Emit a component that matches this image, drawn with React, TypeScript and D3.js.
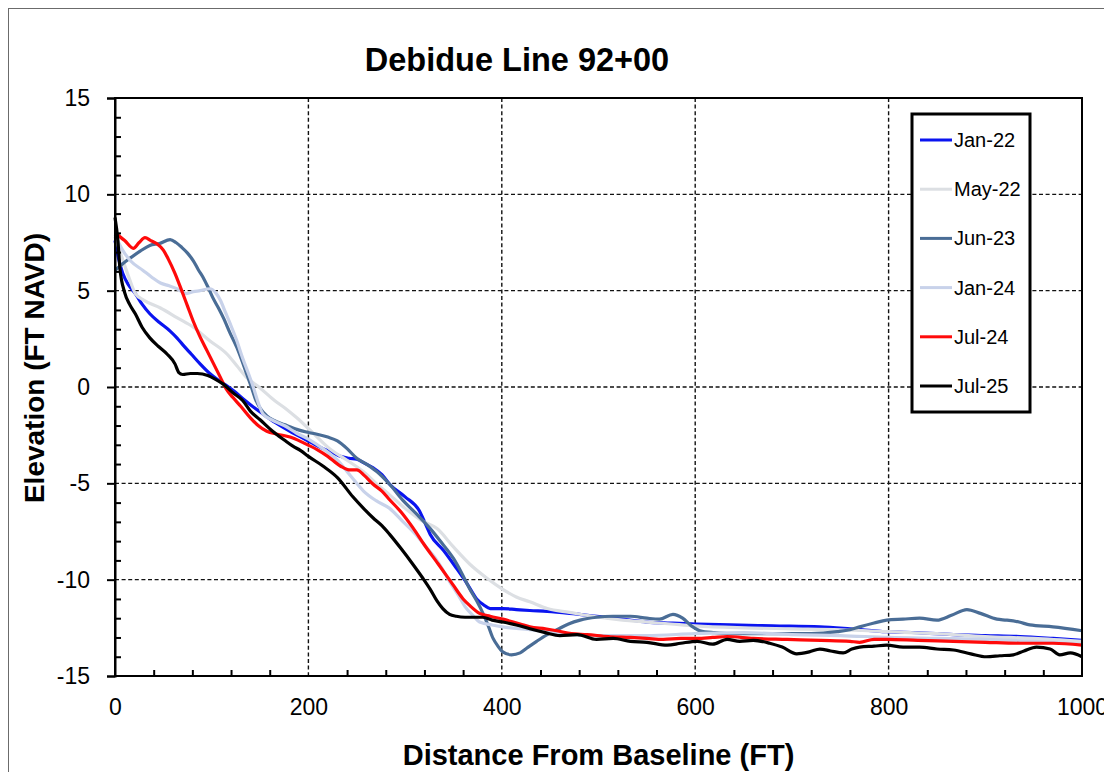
import * as d3 from "d3";
import { useEffect, useRef } from "react";

type Pt = [number, number];

// survey profiles: [distance from baseline (ft), elevation (ft NAVD)]
const jan22: Pt[] = [
  [0, 7.6], [4, 6.6], [8, 5.9], [14, 5.3], [21, 4.85], [28, 4.3], [36, 3.8], [46, 3.35], [57, 2.9],
  [64, 2.55], [70, 2.2], [79, 1.7], [88, 1.2], [98, 0.7], [107, 0.35], [116, 0.05], [124, -0.25],
  [132, -0.6], [142, -1.0], [153, -1.4], [166, -1.85], [181, -2.3], [198, -2.75], [215, -3.2],
  [225, -3.4], [233, -3.6], [242, -3.7], [250, -3.75], [258, -3.95], [267, -4.2], [276, -4.55],
  [284, -5.05], [300, -5.7], [315, -6.45], [321, -7.1], [326, -7.65], [340, -8.5], [353, -9.4],
  [364, -10.2], [374, -11.0], [381, -11.3], [388, -11.5], [401, -11.5], [415, -11.55], [429, -11.6],
  [447, -11.65], [470, -11.75], [498, -11.9], [525, -12.05], [550, -12.2], [575, -12.25], [602, -12.3],
  [636, -12.35], [680, -12.4], [729, -12.45], [760, -12.55], [798, -12.7], [830, -12.75], [867, -12.85],
  [900, -12.9], [936, -12.95], [970, -13.05], [1000, -13.15],
];

const may22: Pt[] = [
  [0, 7.8], [8, 6.6], [15, 5.6], [21, 4.85], [30, 4.5], [47, 4.1], [64, 3.6], [81, 3.1], [98, 2.4],
  [116, 1.7], [126, 1.1], [136, 0.5], [150, -0.05], [165, -0.7], [176, -1.1], [188, -1.6], [205, -2.4],
  [222, -3.2], [240, -3.8], [257, -4.4], [270, -5.0], [284, -5.6], [300, -6.3], [316, -6.9], [333, -7.35],
  [350, -8.3], [367, -9.2], [384, -9.9], [401, -10.5], [415, -10.9], [429, -11.15], [447, -11.5],
  [470, -11.7], [500, -11.95], [525, -12.1], [550, -12.2], [575, -12.3], [600, -12.4], [650, -12.5],
  [700, -12.55], [750, -12.6], [800, -12.7], [850, -12.8], [900, -12.95], [950, -13.05], [1000, -13.2],
];

const jun23: Pt[] = [
  [0, 6.05], [8, 6.4], [16, 6.7], [26, 7.05], [36, 7.35], [46, 7.45], [57, 7.65], [63, 7.5], [69, 7.25],
  [75, 6.95], [81, 6.55], [86, 6.1], [91, 5.7], [96, 5.2], [101, 4.65], [107, 4.1], [112, 3.6], [119, 2.8],
  [126, 2.05], [131, 1.4], [136, 0.7], [141, 0.0], [145, -0.6], [150, -1.1], [157, -1.5], [165, -1.75],
  [175, -1.95], [188, -2.2], [199, -2.35], [209, -2.45], [220, -2.6], [230, -2.8], [240, -3.2], [250, -3.7],
  [260, -4.0], [271, -4.4], [284, -5.05], [298, -5.9], [312, -6.6], [326, -7.35], [338, -8.1], [350, -8.9],
  [359, -9.7], [367, -10.5], [374, -11.1], [381, -11.8], [386, -12.4], [391, -13.05], [396, -13.45],
  [401, -13.75], [410, -13.9], [419, -13.8], [426, -13.55], [436, -13.2], [447, -12.85], [457, -12.6],
  [469, -12.3], [481, -12.1], [498, -11.95], [515, -11.9], [533, -11.9], [550, -12.0], [563, -12.05],
  [577, -11.8], [587, -12.0], [596, -12.4], [605, -12.65], [620, -12.75], [636, -12.8], [660, -12.8],
  [695, -12.8], [720, -12.8], [747, -12.7], [760, -12.6], [770, -12.45], [785, -12.25], [798, -12.1],
  [815, -12.05], [832, -12.0], [850, -12.1], [865, -11.85], [881, -11.55], [895, -11.75], [912, -12.05],
  [922, -12.1], [935, -12.2], [946, -12.35], [970, -12.45], [1000, -12.65],
];

const jan24: Pt[] = [
  [0, 7.9], [8, 7.1], [16, 6.55], [29, 6.05], [38, 5.7], [47, 5.4], [56, 5.25], [64, 5.1], [74, 4.85],
  [81, 4.95], [88, 5.0], [98, 5.1], [104, 4.9], [109, 4.5], [114, 3.9], [119, 3.3], [126, 2.4], [132, 1.5],
  [138, 0.7], [143, 0.0], [148, -0.8], [153, -1.4], [162, -1.7], [175, -2.0], [188, -2.4], [200, -2.7],
  [215, -3.2], [230, -3.8], [245, -4.7], [257, -5.4], [270, -5.9], [284, -6.3], [298, -7.0], [310, -7.6],
  [320, -8.2], [330, -8.8], [338, -9.4], [346, -10.1], [355, -10.8], [362, -11.4], [370, -11.85],
  [377, -12.2], [390, -12.35], [401, -12.45], [429, -12.6], [460, -12.8], [500, -12.9], [550, -12.9],
  [600, -12.8], [650, -12.75], [700, -12.85], [750, -12.9], [800, -13.0], [850, -13.05], [900, -13.1],
  [950, -13.2], [1000, -13.35],
];

const jul24: Pt[] = [
  [0, 8.0], [10, 7.6], [19, 7.2], [25, 7.5], [31, 7.75], [37, 7.6], [43, 7.45], [50, 7.1], [55, 6.65],
  [62, 5.9], [69, 5.0], [75, 4.2], [81, 3.4], [88, 2.6], [95, 1.9], [102, 1.2], [109, 0.5], [115, -0.1],
  [122, -0.55], [130, -1.0], [140, -1.6], [148, -2.0], [157, -2.3], [168, -2.45], [181, -2.6], [195, -2.9],
  [209, -3.25], [220, -3.6], [233, -4.1], [242, -4.3], [250, -4.3], [258, -4.6], [267, -5.05], [276, -5.4],
  [284, -5.85], [296, -6.5], [308, -7.3], [320, -8.2], [333, -9.1], [343, -9.8], [350, -10.3], [360, -11.0],
  [367, -11.35], [377, -11.75], [388, -11.9], [401, -12.05], [419, -12.3], [429, -12.45], [445, -12.55],
  [457, -12.65], [472, -12.8], [488, -12.85], [510, -12.95], [533, -13.0], [550, -13.05], [567, -13.1],
  [585, -13.05], [602, -13.05], [618, -13.0], [633, -12.95], [660, -13.05], [695, -13.1], [730, -13.15],
  [760, -13.2], [770, -13.25], [785, -13.1], [798, -13.1], [830, -13.15], [867, -13.2], [900, -13.25],
  [936, -13.3], [970, -13.3], [1000, -13.4],
];

const jul25: Pt[] = [
  [0, 8.8], [3, 7.6], [5, 6.2], [10, 4.9], [15, 4.3], [21, 3.8], [28, 3.1], [36, 2.55], [45, 2.1], [54, 1.7],
  [62, 1.2], [66, 0.75], [70, 0.65], [78, 0.7], [85, 0.7], [96, 0.6], [104, 0.4], [112, 0.15], [122, -0.3],
  [132, -0.7], [140, -1.25], [150, -1.7], [163, -2.3], [175, -2.75], [184, -3.07], [192, -3.3], [200, -3.6],
  [215, -4.1], [230, -4.7], [246, -5.7], [257, -6.3], [267, -6.8], [276, -7.2], [284, -7.65], [296, -8.4],
  [308, -9.2], [318, -9.9], [326, -10.5], [333, -11.1], [339, -11.5], [346, -11.8], [353, -11.9],
  [362, -11.95], [370, -11.95], [380, -11.95], [390, -12.1], [401, -12.2], [415, -12.35], [429, -12.55],
  [445, -12.75], [460, -12.9], [478, -12.85], [498, -13.1], [515, -13.05], [533, -13.2], [550, -13.25],
  [571, -13.4], [585, -13.3], [602, -13.2], [618, -13.35], [633, -13.1], [646, -13.2], [660, -13.15],
  [677, -13.3], [690, -13.5], [705, -13.85], [718, -13.75], [729, -13.6], [740, -13.7], [753, -13.8],
  [762, -13.6], [770, -13.5], [785, -13.45], [798, -13.4], [815, -13.5], [832, -13.5], [850, -13.6],
  [867, -13.65], [885, -13.85], [901, -14.0], [915, -13.95], [929, -13.9], [940, -13.7], [953, -13.5],
  [967, -13.6], [977, -13.9], [988, -13.8], [1000, -14.0],
];

const seriesNames = ["Jan-22", "May-22", "Jun-23", "Jan-24", "Jul-24", "Jul-25"];
const seriesData = [jan22, may22, jun23, jan24, jul24, jul25];
const seriesColors = ["#0a14f0", "#dcdfe3", "#4a6d96", "#c8d2ea", "#ff0a0a", "#000000"];

const xMajor = [0, 200, 400, 600, 800, 1000];
const yMajor = [-15, -10, -5, 0, 5, 10, 15];

const FONT = "'Liberation Sans', Arial, sans-serif";

const App = () => {
  const ref = useRef<SVGSVGElement | null>(null);
  const width = 1104;
  const height = 764;

  useEffect(() => {
    if (!ref.current) return;
    const root = d3.select(ref.current);
    root.selectAll("*").remove();

    const margin = { top: 90, left: 107 };
    const plotW = 967;
    const plotH = 578;

    // outer frame (runs past the picture on the right and bottom)
    root
      .append("rect")
      .attr("x", 0.5)
      .attr("y", 0.5)
      .attr("width", 1200)
      .attr("height", 1000)
      .attr("fill", "#fff")
      .attr("stroke", "#6b6b6b")
      .attr("stroke-width", 1);

    const x = d3.scaleLinear().domain([0, 1000]).range([0, plotW]);
    const y = d3.scaleLinear().domain([-15, 15]).range([plotH, 0]);

    const g = root.append("g").attr("transform", `translate(${margin.left},${margin.top})`);

    // dashed grid
    g.append("g")
      .selectAll("line")
      .data(yMajor.filter((v) => v > -15 && v < 15))
      .join("line")
      .attr("x1", 0)
      .attr("x2", plotW)
      .attr("y1", (d) => y(d))
      .attr("y2", (d) => y(d))
      .attr("stroke", "#111")
      .attr("stroke-width", 1.4)
      .attr("stroke-dasharray", "4,2.6");

    g.append("g")
      .selectAll("line")
      .data(xMajor.filter((v) => v > 0 && v < 1000))
      .join("line")
      .attr("x1", (d) => x(d))
      .attr("x2", (d) => x(d))
      .attr("y1", 0)
      .attr("y2", plotH)
      .attr("stroke", "#111")
      .attr("stroke-width", 1.4)
      .attr("stroke-dasharray", "4,2.6");

    // profiles
    const line = d3
      .line<Pt>()
      .x((d) => x(d[0]))
      .y((d) => y(d[1]))
      .curve(d3.curveMonotoneX);

    seriesData.forEach((data, i) => {
      g.append("path")
        .datum(data)
        .attr("fill", "none")
        .attr("stroke", seriesColors[i])
        .attr("stroke-width", 3.2)
        .attr("stroke-linejoin", "round")
        .attr("d", line);
    });

    // plot border
    g.append("rect")
      .attr("x", 0)
      .attr("y", 0)
      .attr("width", plotW)
      .attr("height", plotH)
      .attr("fill", "none")
      .attr("stroke", "#000")
      .attr("stroke-width", 2);

    const plain = (d: d3.NumberValue) => String(d);

    // y axis: major ticks outside, minor ticks inside
    const yAxis = g
      .append("g")
      .call(d3.axisLeft(y).tickValues(yMajor).tickSize(8).tickPadding(17).tickFormat(plain));
    yAxis.select(".domain").attr("stroke-width", 2);
    yAxis.selectAll("line").attr("stroke-width", 2);
    yAxis.selectAll("text").attr("font-family", FONT).attr("font-size", 23).attr("fill", "#000");

    const yMinor = d3.range(-14, 15).filter((v) => v % 5 !== 0);
    const yMinorAxis = g.append("g").call(d3.axisRight(y).tickValues(yMinor).tickSize(6).tickFormat(() => ""));
    yMinorAxis.select(".domain").remove();
    yMinorAxis.selectAll("line").attr("stroke-width", 2);

    // x axis: labels below, minor ticks inside
    const xAxis = g
      .append("g")
      .attr("transform", `translate(0,${plotH})`)
      .call(d3.axisBottom(x).tickValues(xMajor).tickSize(0).tickPadding(23).tickFormat(plain));
    xAxis.select(".domain").remove();
    xAxis.selectAll("text").attr("font-family", FONT).attr("font-size", 23).attr("fill", "#000");

    const xMinor = d3.range(40, 1000, 40).filter((v) => v % 200 !== 0);
    const xMinorAxis = g
      .append("g")
      .attr("transform", `translate(0,${plotH})`)
      .call(d3.axisTop(x).tickValues(xMinor).tickSize(6).tickFormat(() => ""));
    xMinorAxis.select(".domain").remove();
    xMinorAxis.selectAll("line").attr("stroke-width", 2);

    // titles
    root
      .append("text")
      .attr("x", 509)
      .attr("y", 63)
      .attr("text-anchor", "middle")
      .attr("font-family", FONT)
      .attr("font-weight", "bold")
      .attr("font-size", 32.5)
      .text("Debidue Line 92+00");

    root
      .append("text")
      .attr("transform", `translate(36,${360}) rotate(-90)`)
      .attr("text-anchor", "middle")
      .attr("font-family", FONT)
      .attr("font-weight", "bold")
      .attr("font-size", 28)
      .text("Elevation (FT NAVD)");

    root
      .append("text")
      .attr("x", margin.left + plotW / 2)
      .attr("y", 757)
      .attr("text-anchor", "middle")
      .attr("font-family", FONT)
      .attr("font-weight", "bold")
      .attr("font-size", 29)
      .text("Distance From Baseline (FT)");

    // legend
    const lg = root.append("g");
    lg.append("rect")
      .attr("x", 904)
      .attr("y", 106)
      .attr("width", 118)
      .attr("height", 298)
      .attr("fill", "#fff")
      .attr("stroke", "#000")
      .attr("stroke-width", 3);

    const ly = d3.scalePoint<string>().domain(seriesNames).range([132, 378]);
    seriesNames.forEach((name, i) => {
      const yy = ly(name) ?? 0;
      lg.append("line")
        .attr("x1", 912)
        .attr("x2", 944)
        .attr("y1", yy)
        .attr("y2", yy)
        .attr("stroke", seriesColors[i])
        .attr("stroke-width", 3);
      lg.append("text")
        .attr("x", 946)
        .attr("y", yy)
        .attr("dy", "0.35em")
        .attr("font-family", FONT)
        .attr("font-size", 20)
        .text(name);
    });
  }, []);

  return <svg ref={ref} width={width} height={height} style={{ display: "block", overflow: "hidden" }} />;
};

export default App;
